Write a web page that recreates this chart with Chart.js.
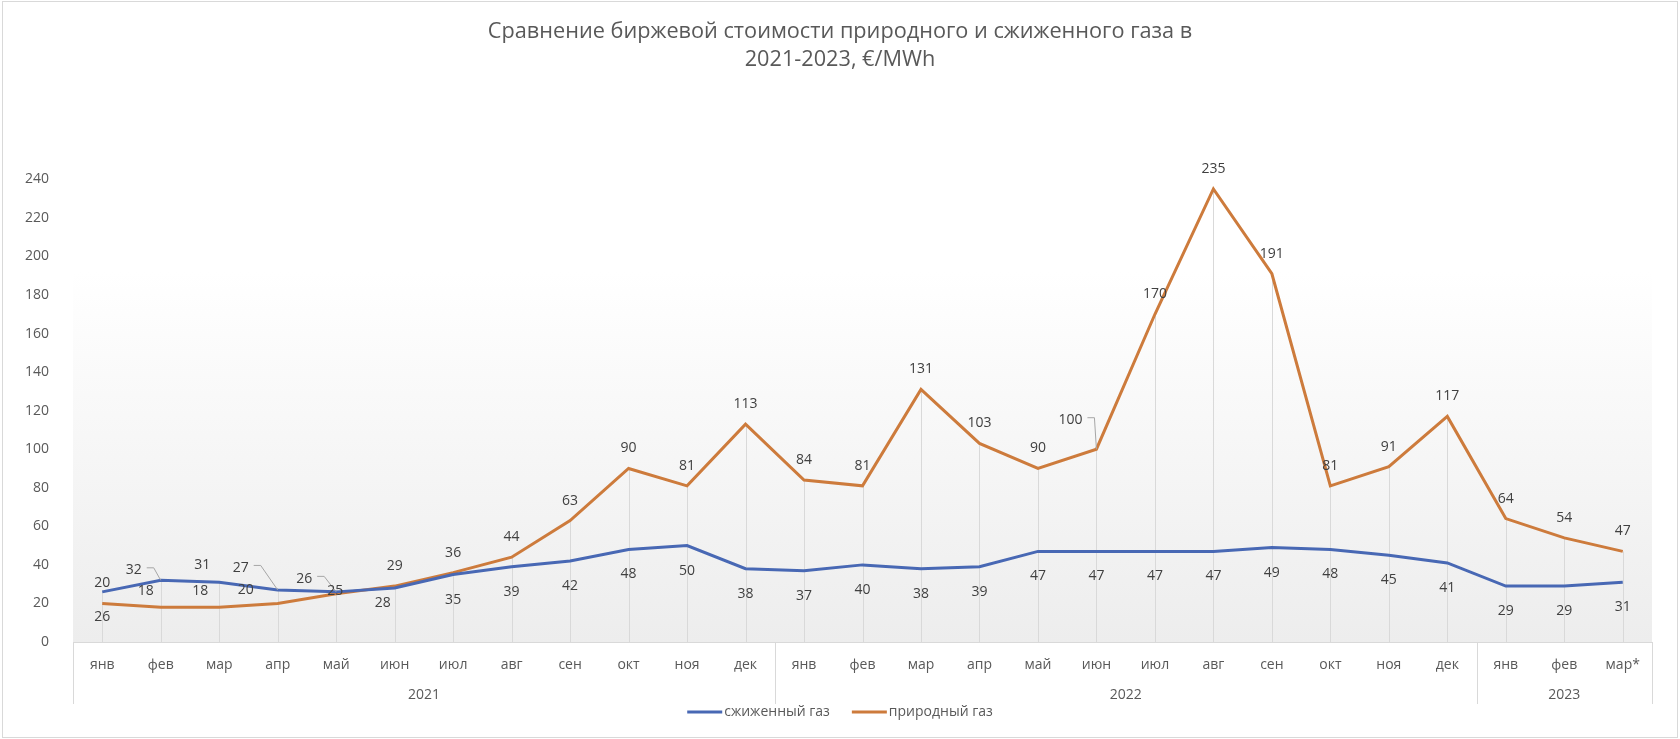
<!DOCTYPE html>
<html>
<head>
<meta charset="utf-8">
<script src="https://cdn.jsdelivr.net/npm/chart.js@4"></script>
<style>
  html, body { margin: 0; padding: 0; background: #fff; }
  #wrap { width: 1680px; height: 739px; }
</style>
</head>
<body>
<div id="wrap"><canvas id="gasChart" width="1680" height="739"></canvas></div>
<script>
// months on the category axis (27 points, jan 2021 - mar 2023)
const months = ['янв', 'фев', 'мар', 'апр', 'май', 'июн', 'июл', 'авг', 'сен', 'окт', 'ноя', 'дек',
                'янв', 'фев', 'мар', 'апр', 'май', 'июн', 'июл', 'авг', 'сен', 'окт', 'ноя', 'дек',
                'янв', 'фев', 'мар*'];
const years = ['2021', '2022', '2023'];
const monthsPerYear = [12, 12, 3];

// €/MWh
const lngPrices = [26, 32, 31, 27, 26, 28, 35, 39, 42, 48, 50, 38,
                   37, 40, 38, 39, 47, 47, 47, 47, 49, 48, 45, 41,
                   29, 29, 31];
const naturalGasPrices = [20, 18, 18, 20, 25, 29, 36, 44, 63, 90, 81, 113,
                          84, 81, 131, 103, 90, 100, 170, 235, 191, 81, 91, 117,
                          64, 54, 47];

const yMin = 0, yMax = 240, yStep = 20;

const FONT = '"Open Sans", "DejaVu Sans", sans-serif';
const FONT_SIZE = 14;
const gridGrey = '#d9d9d9';
const textGrey = '#595959';

// label placement: default offset per series, plus hand-moved labels (like in the Excel original)
const labelDefaultDy = [25, -20];
const labelMoved = {
  '0-1': { dx: -27, dy: -10, leader: true },
  '0-2': { dx: -17, dy: -17 },
  '0-3': { dx: -37, dy: -22, leader: true },
  '0-4': { dx: -32, dy: -13, leader: true },
  '0-5': { dx: -12, dy: 15 },
  '1-1': { dx: -15, dy: -16 },
  '1-2': { dx: -19, dy: -16 },
  '1-3': { dx: -32, dy: -13 },
  '1-4': { dx: -1, dy: -3 },
  '1-17': { dx: -26, dy: -29, leader: true }
};

// white background, border and plot gradient
const backdrop = {
  id: 'backdrop',
  beforeDraw(chart) {
    const { ctx, chartArea: a } = chart;
    ctx.save();
    ctx.fillStyle = '#fff';
    ctx.fillRect(0, 0, chart.width, chart.height);
    ctx.strokeStyle = gridGrey;
    ctx.lineWidth = 1;
    ctx.strokeRect(2.5, 1.5, chart.width - 5, chart.height - 3);
    const g = ctx.createLinearGradient(0, a.top, 0, a.bottom);
    g.addColorStop(0, '#ffffff');
    g.addColorStop(0.2, '#ffffff');
    g.addColorStop(1, '#ededed');
    ctx.fillStyle = g;
    ctx.fillRect(a.left, a.top + (a.bottom - a.top) * 0.2, a.right - a.left, (a.bottom - a.top) * 0.8);
    ctx.restore();
  }
};

// drop lines from the highest point down to the axis
const dropLines = {
  id: 'dropLines',
  beforeDatasetsDraw(chart) {
    const { ctx, chartArea: a } = chart;
    const metas = chart.data.datasets.map((d, i) => chart.getDatasetMeta(i));
    ctx.save();
    ctx.strokeStyle = gridGrey;
    ctx.lineWidth = 1;
    months.forEach((m, i) => {
      const top = Math.min(...metas.map(meta => meta.data[i].y));
      const x = Math.round(metas[0].data[i].x) + 0.5;
      ctx.beginPath();
      ctx.moveTo(x, top);
      ctx.lineTo(x, a.bottom);
      ctx.stroke();
    });
    ctx.restore();
  }
};

// year row of the category axis with group separators
const yearAxis = {
  id: 'yearAxis',
  afterDraw(chart) {
    const { ctx, chartArea: a } = chart;
    const xs = chart.scales.x;
    const step = (a.right - a.left) / months.length;
    ctx.save();
    ctx.strokeStyle = gridGrey;
    ctx.lineWidth = 1;
    ctx.fillStyle = textGrey;
    ctx.font = FONT_SIZE + 'px ' + FONT;
    ctx.textAlign = 'center';
    ctx.textBaseline = 'middle';
    let start = 0;
    const edges = [a.left];
    years.forEach((y, k) => {
      const end = start + monthsPerYear[k];
      const x0 = xs.getPixelForValue(start) - step / 2;
      const x1 = xs.getPixelForValue(end - 1) + step / 2;
      edges.push(x1);
      ctx.fillText(y, (x0 + x1) / 2, a.bottom + 53);
      start = end;
    });
    edges.forEach(x => {
      const px = Math.round(x) + 0.5;
      ctx.beginPath();
      ctx.moveTo(px, a.bottom);
      ctx.lineTo(px, a.bottom + 62);
      ctx.stroke();
    });
    ctx.restore();
  }
};

// value labels
const valueLabels = {
  id: 'valueLabels',
  afterDatasetsDraw(chart) {
    const { ctx } = chart;
    ctx.save();
    ctx.font = FONT_SIZE + 'px ' + FONT;
    ctx.textAlign = 'center';
    ctx.textBaseline = 'middle';
    chart.data.datasets.forEach((ds, s) => {
      const meta = chart.getDatasetMeta(s);
      meta.data.forEach((pt, i) => {
        const mv = labelMoved[s + '-' + i];
        const lx = pt.x + (mv ? mv.dx : 0);
        const ly = pt.y + (mv ? mv.dy : labelDefaultDy[s]);
        const txt = String(ds.data[i]);
        if (mv && mv.leader) {
          const right = lx + ctx.measureText(txt).width / 2;
          ctx.strokeStyle = '#a6a6a6';
          ctx.lineWidth = 1;
          ctx.beginPath();
          ctx.moveTo(right + 5, ly - 2.5);
          ctx.lineTo(right + 12, ly - 2.5);
          ctx.lineTo(pt.x, pt.y);
          ctx.stroke();
        }
        ctx.fillStyle = '#404040';
        ctx.fillText(txt, lx, ly);
      });
    });
    ctx.restore();
  }
};

// legend under the axis
const bottomLegend = {
  id: 'bottomLegend',
  afterDraw(chart) {
    const { ctx } = chart;
    ctx.save();
    ctx.font = FONT_SIZE + 'px ' + FONT;
    ctx.textBaseline = 'middle';
    const lineLen = 35, gap = 2, itemGap = 22;
    const items = chart.data.datasets.map(d => ({ text: d.label, color: d.borderColor, w: ctx.measureText(d.label).width }));
    const total = items.reduce((t, it) => t + lineLen + gap + it.w, 0) + itemGap * (items.length - 1);
    let x = chart.width / 2 - total / 2;
    const y = 712;
    items.forEach(it => {
      ctx.strokeStyle = it.color;
      ctx.lineWidth = 3;
      ctx.beginPath();
      ctx.moveTo(x, y);
      ctx.lineTo(x + lineLen, y);
      ctx.stroke();
      ctx.fillStyle = textGrey;
      ctx.fillText(it.text, x + lineLen + gap, y + 0.5);
      x += lineLen + gap + it.w + itemGap;
    });
    ctx.restore();
  }
};

const ctx = document.getElementById('gasChart').getContext('2d');

const gasChart = new Chart(ctx, {
  type: 'line',
  data: {
    labels: months,
    datasets: [{
      label: 'сжиженный газ',
      data: lngPrices,
      borderColor: '#4868b4',
      backgroundColor: '#4868b4',
      borderWidth: 3,
      pointRadius: 0,
      tension: 0
    }, {
      label: 'природный газ',
      data: naturalGasPrices,
      borderColor: '#cd7b3c',
      backgroundColor: '#cd7b3c',
      borderWidth: 3,
      pointRadius: 0,
      tension: 0
    }]
  },
  options: {
    responsive: false,
    animation: false,
    layout: { padding: 0 },
    plugins: {
      legend: { display: false },
      tooltip: { enabled: false },
      title: {
        display: true,
        text: ['Сравнение биржевой стоимости природного и сжиженного газа в', '2021-2023, €/MWh'],
        color: textGrey,
        font: { family: FONT, size: 21.7, weight: 'normal', lineHeight: 1.32 },
        padding: { top: 17, bottom: 105 }
      }
    },
    scales: {
      x: {
        offset: true,
        grid: { display: false, offset: true },
        border: { display: true, color: gridGrey },
        ticks: {
          color: textGrey,
          font: { family: FONT, size: FONT_SIZE },
          padding: 7,
          maxRotation: 0,
          autoSkip: false
        },
        afterFit(scale) { scale.height = 97; }
      },
      y: {
        min: yMin,
        max: yMax,
        grid: { display: false },
        border: { display: false },
        ticks: {
          stepSize: yStep,
          color: textGrey,
          font: { family: FONT, size: FONT_SIZE },
          padding: 16
        },
        afterFit(scale) { scale.width = 73; }
      },
      // empty right margin so the title stays centred on the whole canvas
      yRight: {
        position: 'right',
        min: yMin,
        max: yMax,
        grid: { display: false },
        border: { display: false },
        ticks: { display: false },
        afterFit(scale) { scale.width = 28; }
      }
    }
  },
  plugins: [backdrop, dropLines, yearAxis, valueLabels, bottomLegend]
});
</script>
</body>
</html>
